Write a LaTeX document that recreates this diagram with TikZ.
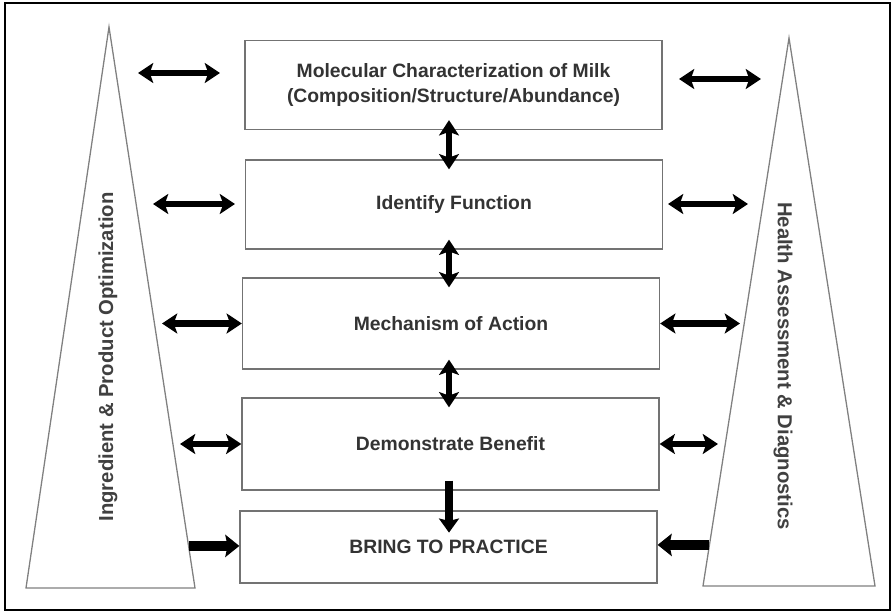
\documentclass[tikz,border=0pt]{standalone}
\usepackage{fontspec}
\setmainfont{Liberation Sans}
\usepackage{tikz}
\usetikzlibrary{arrows.meta,calc}

\tikzset{
  stage/.style={draw=black!55, line width=1.1pt, fill=white, minimum width=12.51cm,
    inner sep=0pt, align=center, text=black!80, font=\fontsize{16.5}{22}\selectfont\bfseries},
  side/.style={draw=black!50, line width=1.1pt},
  sidelabel/.style={text=black!75, font=\fontsize{17.3}{22}\selectfont\bfseries},
  twoway/.style={line width=5.5pt, >={Stealth[length=13pt,width=17pt,inset=3pt]}, <->},
  downway/.style={line width=6.5pt, -{Stealth[length=12pt,width=17pt,inset=2pt]}},
  oneway/.style={line width=8.5pt, -{Stealth[length=12pt,width=19pt,inset=2pt]}}
}

\begin{document}
\begin{tikzpicture}[x=0.03cm, y=-0.03cm]
\useasboundingbox (0,0) rectangle (894,613);
\draw[line width=1.7pt] (5,3) rectangle (890,610);
\coordinate (IT) at (109,27);
\coordinate (IL) at (26,588);
\coordinate (IR) at (195,588);
\coordinate (HT) at (789,38);
\coordinate (HL) at (703,586);
\coordinate (HR) at (875,586);
\draw[side] (IT) -- (IL) -- (IR) -- cycle;
\draw[side] (HT) -- (HL) -- (HR) -- cycle;
\node[sidelabel, rotate=90] (ipo) at (108,357) {Ingredient \& Product Optimization};
\node[sidelabel, rotate=-90] (had) at (783,366) {Health Assessment \& Diagnostics};

\node[stage, minimum height=2.67cm] (milk) at (453.5,85) {Molecular Characterization of Milk\\(Composition/Structure/Abundance)};
\node[stage, minimum height=2.67cm] (func) at (454,204.5) {Identify Function};
\node[stage, minimum height=2.73cm] (mech) at (451,323.5) {Mechanism of Action};
\node[stage, minimum height=2.76cm] (bene) at (450.5,444) {Demonstrate Benefit};
\node[stage, minimum height=2.16cm] (prac) at (448.5,547) {BRING TO PRACTICE};

\coordinate (axis) at (449,0);
\draw[twoway, shorten <=-8.5pt, shorten >=-8.5pt] (milk.south -| axis) -- (func.north -| axis);
\draw[twoway, shorten <=-8.5pt, shorten >=-8.5pt] (func.south -| axis) -- (mech.north -| axis);
\draw[twoway, shorten <=-8.5pt, shorten >=-8.5pt] (mech.south -| axis) -- (bene.north -| axis);
\draw[downway, shorten <=-8.5pt, shorten >=-19pt] (bene.south -| axis) -- (prac.north -| axis);

\coordinate (i1) at (138,73);
\coordinate (i1b) at (220,73);
\coordinate (i2) at (153,204);
\coordinate (i2b) at (235,204);
\coordinate (i3) at (162,323.5);
\coordinate (i4) at (180,444);
\coordinate (i5) at ($(IT)!0.925!(IR)$);
\draw[twoway] (i1) -- (i1b);
\draw[twoway] (i2) -- (i2b);
\draw[twoway] (i3) -- (mech.west);
\draw[twoway] (i4) -- (bene.west);
\draw[oneway] (i5) -- (i5 -| prac.west);

\coordinate (h1) at (761,79);
\coordinate (h1b) at (679,79);
\coordinate (h2) at (748,204);
\coordinate (h2b) at (668,204);
\coordinate (h3) at (740,323.5);
\coordinate (h4) at (718,444);
\coordinate (h5) at ($(HT)!0.925!(HL)$);
\draw[twoway] (h1b) -- (h1);
\draw[twoway] (h2b) -- (h2);
\draw[twoway] (mech.east) -- (h3);
\draw[twoway] (bene.east) -- (h4);
\draw[oneway] (h5) -- (h5 -| prac.east);
\end{tikzpicture}
\end{document}
